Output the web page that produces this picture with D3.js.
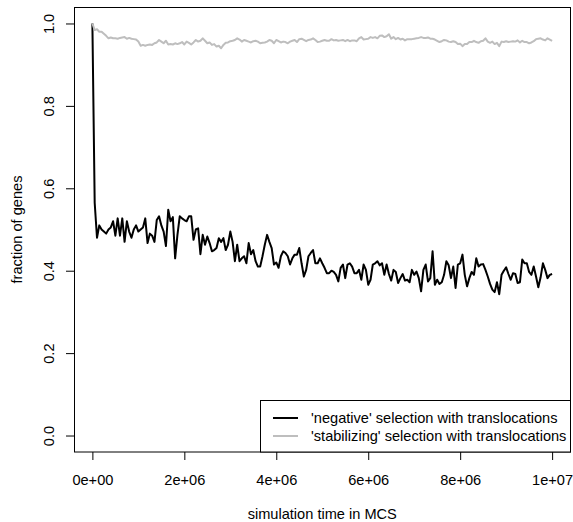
<!DOCTYPE html>
<html>
<head>
<meta charset="utf-8">
<script src="https://cdn.jsdelivr.net/npm/d3@7"></script>
<style>
  body { margin: 0; background: #fff; }
  svg { display: block; font-family: "Liberation Sans", Arial, Helvetica, sans-serif; }
</style>
</head>
<body>
<div id="chart"></div>
<script>
// simulation time grid (MCS), one sample every 5e4 steps
const timeStep = 50000;
const timeMax = 1e7;

// 'negative' selection with translocations (black)
const negativeValues = [
  1.0, 0.565, 0.48, 0.51, 0.50, 0.495, 0.49, 0.50, 0.505, 0.52,
  0.485, 0.527, 0.485, 0.527, 0.47, 0.52, 0.495, 0.48, 0.50, 0.51,
  0.495, 0.50, 0.505, 0.527, 0.467, 0.49, 0.485, 0.47, 0.523, 0.532,
  0.51, 0.495, 0.46, 0.548, 0.52, 0.53, 0.43, 0.487, 0.532, 0.527,
  0.523, 0.52, 0.532, 0.532, 0.475, 0.50, 0.503, 0.44, 0.487, 0.463,
  0.483, 0.467, 0.447, 0.45, 0.455, 0.479, 0.47, 0.479, 0.45, 0.463,
  0.495, 0.47, 0.423, 0.463, 0.423, 0.43, 0.435, 0.418, 0.467, 0.44,
  0.45, 0.423, 0.41, 0.41, 0.435, 0.463, 0.487, 0.47, 0.455, 0.415,
  0.42, 0.407, 0.435, 0.447, 0.443, 0.435, 0.415, 0.43, 0.439, 0.439,
  0.455, 0.418, 0.386, 0.402, 0.435, 0.443, 0.45, 0.418, 0.418, 0.43,
  0.418, 0.407, 0.394, 0.394, 0.40, 0.397, 0.39, 0.374, 0.407, 0.415,
  0.382, 0.415, 0.418, 0.41, 0.394, 0.394, 0.402, 0.378, 0.415, 0.402,
  0.366, 0.378, 0.415, 0.418, 0.423, 0.413, 0.418, 0.39, 0.415, 0.392,
  0.376, 0.402, 0.397, 0.37, 0.382, 0.392, 0.376, 0.378, 0.372, 0.402,
  0.39, 0.398, 0.382, 0.35, 0.402, 0.415, 0.374, 0.382, 0.447, 0.366,
  0.378, 0.368, 0.372, 0.39, 0.423, 0.413, 0.382, 0.41, 0.358, 0.415,
  0.418, 0.439, 0.39, 0.362, 0.382, 0.397, 0.39, 0.43, 0.41, 0.415,
  0.416, 0.402, 0.386, 0.368, 0.354, 0.348, 0.372, 0.343, 0.39, 0.40,
  0.408, 0.392, 0.378, 0.394, 0.392, 0.37, 0.372, 0.427, 0.418, 0.418,
  0.397, 0.39, 0.41, 0.386, 0.36, 0.384, 0.418, 0.402, 0.382, 0.39,
  0.392
];

// 'stabilizing' selection with translocations (gray)
const stabilizingValues = [
  1.0, 0.984, 0.986, 0.98, 0.98, 0.975, 0.97, 0.964, 0.966, 0.964,
  0.964, 0.963, 0.965, 0.966, 0.967, 0.963, 0.965, 0.963, 0.962, 0.961,
  0.956, 0.946, 0.948, 0.946, 0.948, 0.949, 0.948, 0.952, 0.954, 0.96,
  0.956, 0.952, 0.958, 0.949, 0.95, 0.949, 0.952, 0.95, 0.952, 0.955,
  0.949, 0.956, 0.953, 0.949, 0.954, 0.96, 0.956, 0.958, 0.964, 0.958,
  0.952, 0.954, 0.948, 0.95, 0.944, 0.946, 0.94, 0.948, 0.953, 0.954,
  0.957, 0.958, 0.96, 0.964, 0.961, 0.956, 0.96, 0.958, 0.956, 0.954,
  0.957, 0.958, 0.956, 0.952, 0.953, 0.954, 0.956, 0.96, 0.958, 0.952,
  0.96, 0.957, 0.954, 0.956, 0.955, 0.952, 0.956, 0.958, 0.96, 0.955,
  0.962, 0.963, 0.96, 0.957, 0.96, 0.961, 0.964, 0.96, 0.955, 0.956,
  0.958, 0.96, 0.958, 0.958, 0.962, 0.959, 0.96, 0.958, 0.959, 0.96,
  0.957, 0.96, 0.957, 0.959, 0.959, 0.957, 0.964, 0.967, 0.961, 0.962,
  0.963, 0.967, 0.965, 0.967, 0.964, 0.97, 0.971, 0.967, 0.969, 0.974,
  0.963, 0.967, 0.962, 0.965, 0.961, 0.963, 0.959, 0.962, 0.962, 0.962,
  0.963, 0.964, 0.965, 0.967, 0.965, 0.965, 0.966, 0.963, 0.963, 0.961,
  0.958, 0.955, 0.957, 0.96, 0.959, 0.956, 0.955, 0.957, 0.955, 0.95,
  0.951, 0.945, 0.95, 0.95, 0.955, 0.955, 0.958, 0.955, 0.953, 0.957,
  0.958, 0.964, 0.956, 0.953, 0.956, 0.95, 0.953, 0.945, 0.956, 0.955,
  0.957, 0.955, 0.956, 0.957, 0.956, 0.959, 0.954, 0.958, 0.955, 0.955,
  0.952, 0.954, 0.957, 0.962, 0.963, 0.964, 0.961, 0.959, 0.964, 0.961,
  0.958
];

const xTicks = [0, 2e6, 4e6, 6e6, 8e6, 1e7];
const xTickLabels = ['0e+00', '2e+06', '4e+06', '6e+06', '8e+06', '1e+07'];
const yTicks = [0, 0.2, 0.4, 0.6, 0.8, 1.0];
const yTickLabels = ['0.0', '0.2', '0.4', '0.6', '0.8', '1.0'];

const seriesNames = [
  "'negative' selection with translocations",
  "'stabilizing' selection with translocations"
];
const seriesColors = ['#000000', '#bebebe'];

const width = 573;
const height = 522;
const fontSize = '14.6px';
const plot = { left: 74, right: 570.5, top: 7, bottom: 452 };

const times = d3.range(0, timeMax + 1, timeStep);

const svg = d3.select('#chart')
  .append('svg')
  .attr('width', width)
  .attr('height', height);

svg.append('rect')
  .attr('width', width)
  .attr('height', height)
  .attr('fill', '#fff');

// R pads the data range by 4% on each side
const xScale = d3.scaleLinear()
  .domain([-0.04 * timeMax, 1.04 * timeMax])
  .range([plot.left, plot.right]);

const yScale = d3.scaleLinear()
  .domain([-0.04, 1.04])
  .range([plot.bottom, plot.top]);

const line = d3.line()
  .x((d, i) => xScale(times[i]))
  .y(d => yScale(d));

[negativeValues, stabilizingValues].forEach((values, k) => {
  svg.append('path')
    .datum(values)
    .attr('fill', 'none')
    .attr('stroke', seriesColors[k])
    .attr('stroke-width', 2)
    .attr('stroke-linejoin', 'round')
    .attr('d', line);
});

// x axis
svg.append('g')
  .attr('transform', `translate(0, ${plot.bottom})`)
  .call(d3.axisBottom(xScale)
    .tickValues(xTicks)
    .tickFormat((d, i) => xTickLabels[i])
    .tickSize(8)
    .tickPadding(15))
  .call(g => g.select('.domain').remove())
  .call(g => g.selectAll('.tick line').attr('stroke', '#000'))
  .call(g => g.selectAll('.tick text')
    .attr('fill', '#000')
    .style('font-size', fontSize)
    .style('font-family', '"Liberation Sans", Arial, sans-serif'));

// y axis, labels turned like R's las=0
svg.append('g')
  .attr('transform', `translate(${plot.left}, 0)`)
  .call(d3.axisLeft(yScale)
    .tickValues(yTicks)
    .tickFormat((d, i) => yTickLabels[i])
    .tickSize(8))
  .call(g => g.select('.domain').remove())
  .call(g => g.selectAll('.tick line').attr('stroke', '#000'))
  .call(g => g.selectAll('.tick text')
    .attr('x', null)
    .attr('dy', null)
    .attr('text-anchor', 'middle')
    .attr('transform', 'translate(-20, 0) rotate(-90)')
    .attr('fill', '#000')
    .style('font-size', fontSize)
    .style('font-family', '"Liberation Sans", Arial, sans-serif'));

// frame
svg.append('rect')
  .attr('x', plot.left + 0.5)
  .attr('y', plot.top + 0.5)
  .attr('width', plot.right - plot.left - 0.5)
  .attr('height', plot.bottom - plot.top - 0.5)
  .attr('fill', 'none')
  .attr('stroke', '#000');

// axis titles
svg.append('text')
  .attr('x', (plot.left + plot.right) / 2)
  .attr('y', 519)
  .attr('text-anchor', 'middle')
  .style('font-size', fontSize)
  .text('simulation time in MCS');

svg.append('text')
  .attr('transform', `translate(22, ${(plot.top + plot.bottom) / 2}) rotate(-90)`)
  .attr('text-anchor', 'middle')
  .style('font-size', fontSize)
  .text('fraction of genes');

// legend in the bottom right corner
const legend = svg.append('g');

legend.append('rect')
  .attr('x', 260.5)
  .attr('y', 400.5)
  .attr('width', plot.right - 260.5)
  .attr('height', plot.bottom - 400.5)
  .attr('fill', '#fff')
  .attr('stroke', '#000');

seriesNames.forEach((name, k) => {
  const y = 418 + k * 18;
  legend.append('line')
    .attr('x1', 273)
    .attr('x2', 298)
    .attr('y1', y)
    .attr('y2', y)
    .attr('stroke', seriesColors[k])
    .attr('stroke-width', 2);
  legend.append('text')
    .attr('x', 311)
    .attr('y', y + 5)
    .style('font-size', fontSize)
    .text(name);
});
</script>
</body>
</html>
